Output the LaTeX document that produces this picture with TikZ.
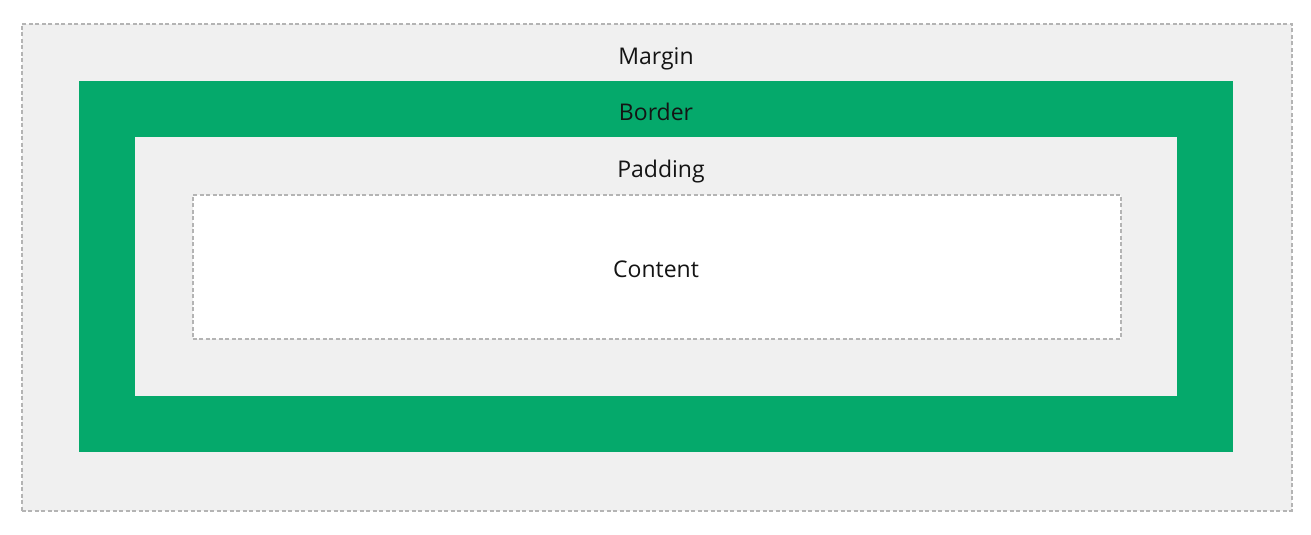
\documentclass[tikz,border=0pt]{standalone}
\usepackage{fontspec}
\setmainfont{Open Sans}
\usetikzlibrary{positioning}
\definecolor{boxgray}{HTML}{F0F0F0}
\definecolor{dashgray}{HTML}{B4B4B4}
\definecolor{bordergreen}{HTML}{05A96B}
\begin{document}
\begin{tikzpicture}[x=1pt,y=-1pt]
      \tikzstyle{areablock}=[rectangle, inner sep=0pt, anchor=north west]
      \tikzstyle{dashedline}=[draw=dashgray, line width=1.7pt, dash pattern=on 4pt off 2.5pt]
      \tikzstyle{areatext}=[anchor=base, font=\fontsize{23}{28}\selectfont, text=black!92]
      \useasboundingbox (0,0) rectangle (1311,535);
      \node[areablock, dashedline, fill=boxgray, minimum width=1270pt, minimum height=487pt] (margin) at (21,23) {};
      \node[areablock, fill=bordergreen, minimum width=1154pt, minimum height=371pt] (border) at (79,81) {};
      \node[areablock, fill=boxgray, minimum width=1042pt, minimum height=259pt] (padding) at (135,137) {};
      \node[areablock, dashedline, fill=white, minimum width=928pt, minimum height=144pt] (content) at (192,194) {};
      \node[areatext] (margintext) at (656,64) {Margin};
      \node[areatext] (bordertext) at (656,120.5) {Border};
      \node[areatext] (paddingtext) at (661,177.5) {Padding};
      \node[areatext] (contenttext) at (656,277) {Content};
    \end{tikzpicture}
\end{document}
